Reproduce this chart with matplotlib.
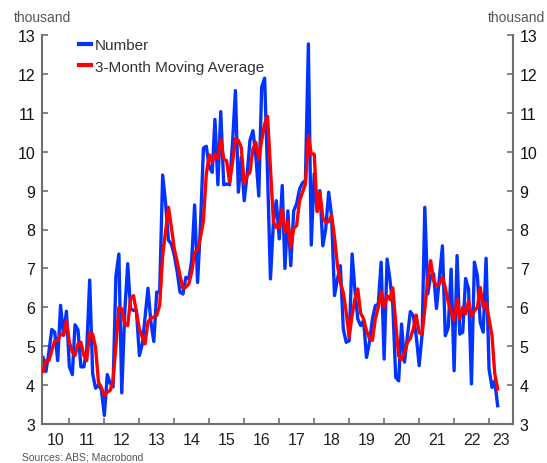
import numpy as np
import pandas as pd
import matplotlib
matplotlib.use("Agg")
import matplotlib.pyplot as plt
import matplotlib.dates as mdates
from datetime import datetime

plt.rcParams['font.family'] = ['Liberation Sans', 'DejaVu Sans']

# Monthly data, April 2010 onwards (thousand)
number = [
    4.71, 4.35, 4.85, 5.43, 5.36, 4.63, 6.05, 5.28, 5.9, 4.47, 4.27, 5.55, 5.42, 4.47,
    4.47, 4.9, 6.7, 4.3, 3.92, 4.0, 3.88, 3.22, 4.27, 4.05, 3.95, 6.8, 7.37, 3.8,
    5.87, 7.12, 5.96, 5.92, 5.92, 4.76, 5.06, 5.75, 6.49, 5.62, 5.12, 6.39, 6.39,
    9.40, 8.70, 7.72, 7.63, 7.33, 6.90, 6.39, 6.34, 6.77, 6.73, 7.2, 8.63, 6.64, 8.1,
    10.09, 10.14, 9.6, 9.47, 10.83, 9.15, 11.03, 9.15, 9.17, 9.15, 10.24, 11.57, 8.96,
    9.86, 8.74, 9.43, 10.29, 10.54, 9.9, 8.86, 11.66, 11.89, 9.4, 6.73, 8.19, 8.74, 7.76,
    9.13, 7.0, 8.48, 7.07, 8.48, 8.66, 9.04, 9.2, 9.26, 12.77, 7.6, 9.43, 8.48, 9.0,
    7.58, 8.01, 8.96, 8.36, 6.3, 6.73, 7.07, 5.44, 5.1, 5.14, 7.37, 6.47, 5.7, 5.53,
    5.66, 4.71, 5.1, 5.7, 6.04, 6.08, 7.16, 4.67, 7.24, 6.73, 6.04, 4.2, 4.11, 5.57,
    4.59, 5.27, 5.89, 5.78, 5.27, 4.5, 5.31, 8.57, 6.34, 6.81, 6.86, 5.97, 6.77, 7.58,
    5.27, 5.48, 6.98, 4.37, 7.33, 5.31, 5.36, 6.74, 6.47, 4.03, 7.16, 6.81, 5.61, 5.36,
    7.26, 4.41, 3.94, 4.11, 3.47,
]
moving_avg = [
    4.35, 4.63, 4.63, 4.89, 5.14, 5.14, 5.31, 5.29, 5.66, 5.1, 4.85, 4.76, 5.06, 5.1,
    4.76, 4.63, 5.34, 5.31, 4.97, 4.07, 3.94, 3.73, 3.82, 3.86, 4.11, 5.01, 6.0, 5.96,
    5.57, 5.53, 6.22, 6.3, 5.87, 5.44, 5.23, 5.06, 5.62, 5.72, 5.75, 5.79, 6.05,
    7.33, 7.93, 8.57, 8.06, 7.5, 7.16, 6.82, 6.49, 6.52, 6.6, 6.9, 7.42, 7.46, 7.8,
    8.23, 9.43, 9.92, 9.73, 9.94, 9.83, 10.33, 9.81, 9.77, 9.21, 9.73, 10.33, 10.29,
    10.11, 9.17, 9.39, 9.47, 10.07, 10.24, 9.81, 10.29, 10.71, 10.91, 9.6, 8.2, 8.05, 8.06,
    8.53, 7.93, 8.2, 7.54, 8.03, 8.1, 8.74, 8.96, 9.17, 10.41, 9.94, 9.94, 8.46, 8.96,
    8.31, 8.18, 8.2, 8.37, 7.8, 7.07, 6.64, 6.38, 5.87, 5.23, 5.8, 6.2, 6.47, 5.85,
    5.7, 5.4, 5.2, 5.15, 5.7, 6.0, 6.4, 6.0, 6.3, 6.2, 6.5, 5.6, 4.75, 4.65,
    4.83, 5.1, 5.2, 5.45, 5.8, 5.35, 5.3, 5.95, 6.73, 7.2, 6.68, 6.56, 6.6, 6.77,
    6.51, 6.13, 5.87, 5.66, 6.21, 5.7, 6.0, 5.83, 6.17, 5.78, 5.91, 6.0, 6.51, 6.0,
    6.13, 5.7, 5.27, 4.3, 3.9,
]
start_month = "2010-04-01"
year_labels = ["10", "11", "12", "13", "14", "15", "16", "17", "18", "19", "20", "21", "22", "23"]
y_ticks = [3, 4, 5, 6, 7, 8, 9, 10, 11, 12, 13]

months = pd.date_range(start_month, periods=len(number), freq="MS")

W, H = 547, 464
fig = plt.figure(figsize=(W / 100, H / 100), dpi=100)
ax = fig.add_axes([42 / W, 1 - 425 / H, (512.7 - 42) / W, (425 - 36) / H])

blue = "#0033ff"
red = "#ff0000"
ax.plot(months, number, color=blue, lw=2.4, label="Number", zorder=2)
ax.plot(months, moving_avg, color=red, lw=2.4, label="3-Month Moving Average", zorder=3)

x0 = mdates.date2num(datetime(2010, 3, 21))
x1 = mdates.date2num(datetime(2023, 9, 5))
ax.set_xlim(x0, x1)
ax.set_ylim(3, 13)

# year boundary ticks
years = list(range(2011, 2024))
ax.set_xticks([mdates.date2num(datetime(y, 1, 1)) for y in years])
ax.set_xticklabels([])
# year labels centred on visible part of each year
lab_pos = []
for i, lab in enumerate(year_labels):
    y = 2010 + i
    a = max(mdates.date2num(datetime(y, 1, 1)), x0)
    b = min(mdates.date2num(datetime(y + 1, 1, 1)), x1)
    lab_pos.append((a + b) / 2)
ax.set_xticks(lab_pos, minor=True)
ax.set_xticklabels(year_labels, minor=True)

ax.set_yticks(y_ticks)
ax.set_yticklabels([str(v) for v in y_ticks])

spine_c = "#6e6e6e"
for s in ["left", "right", "bottom"]:
    ax.spines[s].set_color(spine_c)
    ax.spines[s].set_linewidth(1.5)
ax.spines["top"].set_visible(False)

ax.tick_params(axis="x", which="major", direction="in", length=4, width=1.2, color=spine_c)
ax.tick_params(axis="x", which="minor", length=0, pad=6, labelsize=11.5, labelcolor="#222222")
ax.tick_params(axis="y", which="major", direction="in", length=4, width=1.2, color=spine_c,
               left=True, right=True, labelleft=True, labelright=True,
               labelsize=11.5, labelcolor="#111111", pad=5)

fig.text(42 / W, 1 - 18 / H, "thousand", ha="center", va="center", fontsize=10, color="#555555")
fig.text(516 / W, 1 - 18 / H, "thousand", ha="center", va="center", fontsize=10, color="#555555")
fig.text(22 / W, 1 - 463 / H, "Sources: ABS; Macrobond", ha="left", va="bottom", fontsize=7.5, color="#555555")

leg = ax.legend(loc="upper left", bbox_to_anchor=(79 / W, 1 - 39 / H), bbox_transform=fig.transFigure,
                frameon=False, fontsize=11, handlelength=0.8, handletextpad=0.25,
                labelspacing=0.5, borderpad=0, borderaxespad=0, labelcolor="#333333")
for l in leg.get_lines():
    l.set_linewidth(3)

fig.savefig("out.png", dpi=100)
